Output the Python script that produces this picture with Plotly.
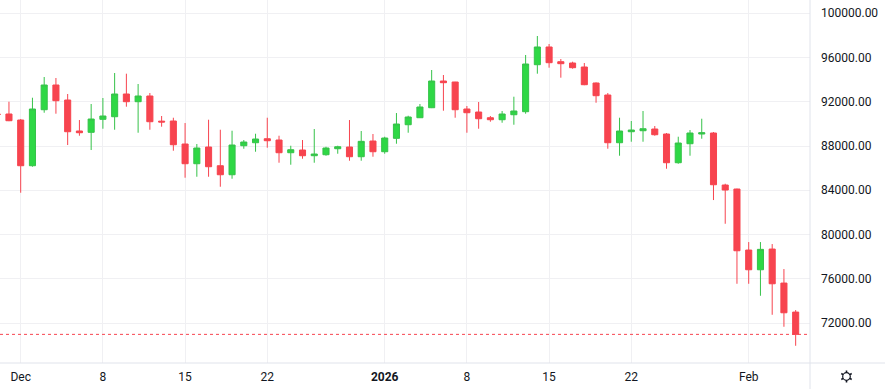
import math
import plotly.graph_objects as go

dates = [
    "2025-11-29", "2025-11-30",
    "2025-12-01", "2025-12-02", "2025-12-03", "2025-12-04", "2025-12-05", "2025-12-06", "2025-12-07",
    "2025-12-08", "2025-12-09", "2025-12-10", "2025-12-11", "2025-12-12", "2025-12-13", "2025-12-14",
    "2025-12-15", "2025-12-16", "2025-12-17", "2025-12-18", "2025-12-19", "2025-12-20", "2025-12-21",
    "2025-12-22", "2025-12-23", "2025-12-24", "2025-12-25", "2025-12-26", "2025-12-27", "2025-12-28",
    "2025-12-29", "2025-12-30", "2025-12-31",
    "2026-01-01", "2026-01-02", "2026-01-03", "2026-01-04", "2026-01-05", "2026-01-06", "2026-01-07",
    "2026-01-08", "2026-01-09", "2026-01-10", "2026-01-11", "2026-01-12", "2026-01-13", "2026-01-14",
    "2026-01-15", "2026-01-16", "2026-01-17", "2026-01-18", "2026-01-19", "2026-01-20", "2026-01-21",
    "2026-01-22", "2026-01-23", "2026-01-24", "2026-01-25", "2026-01-26", "2026-01-27", "2026-01-28",
    "2026-01-29", "2026-01-30", "2026-01-31",
    "2026-02-01", "2026-02-02", "2026-02-03", "2026-02-04", "2026-02-05",
]

opens = [
    90900, 90895,
    90352, 86220, 91283, 93517, 92160, 89360, 89240,
    90415, 90650, 92703, 92007, 92522, 90250, 90262,
    88182, 86401, 87911, 86220, 85406, 88028, 88300,
    88662, 88544, 87395, 87640, 87124, 87215, 87757,
    87911, 87034, 88453,
    87486, 88697, 89927, 90560, 91464, 93879, 93788,
    91347, 91075, 90560, 90379, 90831, 91103, 95352,
    96953, 95624, 95506, 95144, 93698, 92613, 88300,
    89294, 89385, 89538, 89086, 86491, 88209, 89086,
    89177, 84475, 84113,
    78597, 76816, 78688, 75613, 72990,
]

highs = [
    91000, 92007,
    90442, 92368, 94240, 94150, 92703, 90352, 91799,
    92342, 94602, 94540, 93607, 92793, 90714, 90560,
    90081, 88182, 90379, 89475, 89385, 88544, 89113,
    90560, 88933, 88028, 88544, 89538, 87938, 88028,
    90352, 89358, 89086,
    88842, 90985, 90741, 91799, 94873, 94421, 93800,
    91618, 91980, 90714, 91166, 92459, 96230, 97947,
    97224, 95868, 95624, 95506, 93750, 92793, 90560,
    90262, 91166, 89810, 89177, 88842, 89448, 90469,
    89267, 84593, 84150,
    79320, 79320, 79140, 76880, 73173,
]

lows = [
    90700, 90250,
    83779, 86130, 91012, 90922, 88091, 88933, 87640,
    89565, 89475, 91555, 89204, 89475, 89747, 87576,
    85135, 85225, 85225, 84321, 85044, 87757, 87486,
    87847, 86491, 86310, 86853, 86491, 87124, 87305,
    86672, 86672, 87034,
    87305, 88209, 89204, 90540, 91430, 91193, 90560,
    89204, 89565, 90198, 90108, 89927, 90922, 94540,
    95081, 94177, 94990, 93500, 91916, 87757, 87124,
    88390, 88390, 88933, 85949, 86400, 87124, 88662,
    83118, 80975, 75550,
    75550, 74465, 72748, 71663, 69945,
]

closes = [
    90850, 90289,
    86220, 91347, 93517, 92097, 89294, 89204, 90442,
    90714, 92703, 92007, 92522, 90198, 90170, 88118,
    86401, 87820, 86130, 85406, 88091, 88363, 88634,
    88480, 87395, 87667, 87124, 87278, 87820, 87938,
    87034, 88426, 87486,
    88724, 89990, 90624, 91528, 93879, 93725, 91283,
    91012, 90469, 90379, 90895, 91166, 95416, 96953,
    95533, 95443, 95081, 93544, 92550, 88300, 89358,
    89448, 89565, 89023, 86491, 88272, 89177, 89204,
    84502, 84023, 78534,
    76816, 78661, 75550, 72928, 70976,
]

x_tick_vals = ["2025-12-01", "2025-12-08", "2025-12-15", "2025-12-22", "2026-01-01",
               "2026-01-08", "2026-01-15", "2026-01-22", "2026-02-01"]
x_tick_text = ["Dec", "8", "15", "22", "<b>2026</b>", "8", "15", "22", "Feb"]

y_tick_vals = [72000, 76000, 80000, 84000, 88000, 92000, 96000, 100000]
y_tick_text = [f"{v}.00" for v in y_tick_vals]

UP_FILL = "#2ED845"
UP_LINE = "#36C24A"
DOWN = "#F7444F"
GRID = "#F0F0F3"
AXIS = "#E0E3EB"
TEXT = "#131722"

W, H = 885, 389
ML, MR, MT, MB = 0, 75, 0, 26
PW = W - ML - MR
PH = H - MT - MB


def px(x):
    return (x - ML) / PW


def py(y):
    return (PH + MT - y) / PH


fig = go.Figure()
fig.add_trace(go.Candlestick(
    x=dates, open=opens, high=highs, low=lows, close=closes,
    increasing=dict(fillcolor=UP_FILL, line=dict(color=UP_LINE, width=1)),
    decreasing=dict(fillcolor=DOWN, line=dict(color=DOWN, width=1)),
    whiskerwidth=0,
    hoverinfo="skip",
))

shapes = [
    dict(type="line", xref="paper", yref="y", x0=0, x1=1,
         y0=closes[-1], y1=closes[-1], line=dict(color=DOWN, width=1, dash="dot")),
    dict(type="line", xref="paper", yref="paper", x0=0, x1=px(W),
         y0=0, y1=0, line=dict(color=AXIS, width=1)),
    dict(type="line", xref="paper", yref="paper", x0=1, x1=1,
         y0=py(H), y1=1, line=dict(color=AXIS, width=1)),
]

# settings (gear) icon at the bottom right corner
gx, gy, gr = 846.5, 376.5, 3.8
shapes.append(dict(type="circle", xref="paper", yref="paper",
                   x0=px(gx - gr), x1=px(gx + gr), y0=py(gy + gr), y1=py(gy - gr),
                   line=dict(color=TEXT, width=1.2)))
for k in range(6):
    a = math.radians(90 + 60 * k)
    shapes.append(dict(type="line", xref="paper", yref="paper",
                       x0=px(gx + gr * math.cos(a)), x1=px(gx + (gr + 2.2) * math.cos(a)),
                       y0=py(gy - gr * math.sin(a)), y1=py(gy - (gr + 2.2) * math.sin(a)),
                       line=dict(color=TEXT, width=1.6)))

fig.update_layout(
    width=W, height=H,
    margin=dict(l=ML, r=MR, t=MT, b=MB, pad=0),
    paper_bgcolor="white", plot_bgcolor="white",
    showlegend=False,
    boxgap=0.26,
    font=dict(family="Roboto, 'Open Sans', sans-serif", size=12, color=TEXT),
    xaxis=dict(
        type="date",
        range=["2025-11-29 05:41", "2026-02-06 05:17"],
        rangeslider=dict(visible=False),
        tickmode="array", tickvals=x_tick_vals, ticktext=x_tick_text,
        showgrid=True, gridcolor=GRID, gridwidth=1,
        showline=False, zeroline=False, ticks="",
        ticklabelstandoff=5,
        tickfont=dict(size=12, color=TEXT),
        automargin=False, fixedrange=True,
    ),
    yaxis=dict(
        side="right",
        range=[68388, 101201],
        tickmode="array", tickvals=y_tick_vals, ticktext=y_tick_text,
        showgrid=True, gridcolor=GRID, gridwidth=1,
        showline=False, zeroline=False, ticks="",
        ticklabelstandoff=10,
        tickfont=dict(size=12, color=TEXT),
        automargin=False, fixedrange=True,
    ),
    shapes=shapes,
)

fig.write_html("out.html", config={"displayModeBar": False, "staticPlot": True},
               post_script="document.body.style.margin='0';")
